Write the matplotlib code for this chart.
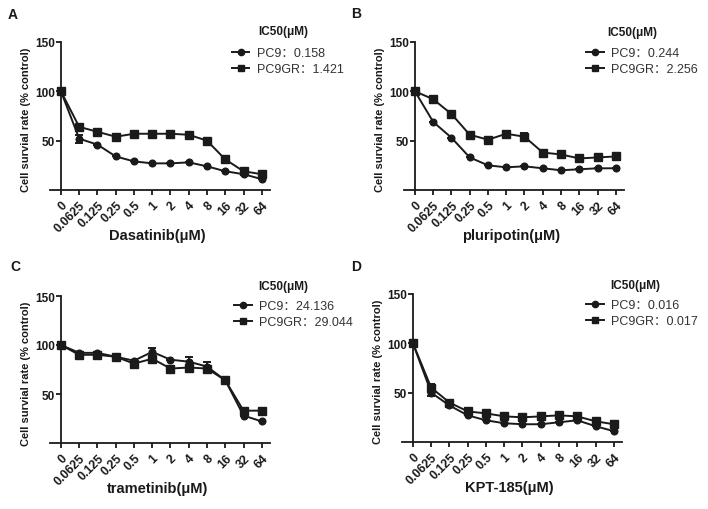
"""
Survival curves PC9 / PC9GR - four drugs
"""
import matplotlib
matplotlib.use('Agg')
import matplotlib.pyplot as plt
from matplotlib.lines import Line2D
import numpy as np

plt.rcParams['font.family'] = ['Liberation Sans', 'Noto Sans CJK SC', 'DejaVu Sans']

# Concentrations (x categories)
doses = ['0', '0.0625', '0.125', '0.25', '0.5', '1', '2', '4', '8', '16', '32', '64']

# Panel A - Dasatinib
dasa_pc9 = [100, 52, 46, 34, 29, 27, 27, 28, 24, 19, 16, 11]
dasa_pc9_err = [0, 4, 0, 0, 0, 0, 0, 0, 0, 0, 0, 0]
dasa_gr = [100, 64, 59, 54, 57, 57, 57, 56, 50, 31, 19, 16]
dasa_gr_err = [0, 0, 0, 0, 3, 0, 0, 0, 0, 0, 0, 0]

# Panel B - pluripotin
plur_pc9 = [100, 69, 53, 33, 25, 23, 24, 22, 20, 21, 22, 22]
plur_pc9_err = [0, 0, 0, 0, 0, 0, 0, 0, 0, 0, 0, 0]
plur_gr = [100, 92, 77, 56, 51, 57, 54, 38, 36, 32, 33, 34]
plur_gr_err = [0, 0, 0, 0, 0, 3, 4, 0, 0, 0, 0, 0]

# Panel C - trametinib
tram_pc9 = [100, 92, 92, 88, 84, 93, 85, 83, 78, 64, 28, 22]
tram_pc9_err = [0, 0, 0, 0, 0, 4, 0, 5, 5, 0, 0, 0]
tram_gr = [100, 90, 90, 88, 81, 86, 76, 77, 76, 64, 33, 33]
tram_gr_err = [0, 3, 0, 0, 3, 3, 0, 3, 0, 0, 0, 0]

# Panel D - KPT-185
kpt_pc9 = [100, 50, 37, 27, 22, 19, 18, 18, 20, 22, 16, 11]
kpt_pc9_err = [0, 3, 0, 0, 0, 0, 0, 0, 0, 0, 0, 0]
kpt_gr = [100, 55, 40, 31, 29, 26, 25, 26, 27, 26, 21, 18]
kpt_gr_err = [0, 4, 0, 0, 0, 0, 0, 0, 0, 0, 0, 0]

panels = [
    ('A', 'Dasatinib(μM)', dasa_pc9, dasa_pc9_err, dasa_gr, dasa_gr_err, '0.158', '1.421'),
    ('B', 'pluripotin(μM)', plur_pc9, plur_pc9_err, plur_gr, plur_gr_err, '0.244', '2.256'),
    ('C', 'trametinib(μM)', tram_pc9, tram_pc9_err, tram_gr, tram_gr_err, '24.136', '29.044'),
    ('D', 'KPT-185(μM)', kpt_pc9, kpt_pc9_err, kpt_gr, kpt_gr_err, '0.016', '0.017'),
]

# mise en page en pixels : (gauche axes, y du 0, y du 150)
W, H = 708, 510
AX_W = 220
boxes = [(50, 191, 43), (404, 191, 43), (50, 444, 297), (402, 443, 295)]
letters = [(8, 15), (351, 14), (10, 267), (351, 267)]
# légende : (gauche du trait, haut de la 1re entrée, gauche du titre, centre y du titre)
legends = [(232, 48, 258, 32), (586, 48, 607, 33), (234, 301, 258, 287), (586, 300, 610, 286)]

col = '#1a1a1a'
fig = plt.figure(figsize=(7.08, 5.10), dpi=100)

x = np.arange(len(doses))
for (letter, xlabel, pc9, pc9_err, gr, gr_err, ic_pc9, ic_gr), (lx, y0, y150), (tx, ty), (hx, hy, ttx, tty) in zip(panels, boxes, letters, legends):
    ax_h = y0 - y150
    ax = fig.add_axes([lx / W, 1 - y0 / H, AX_W / W, ax_h / H])
    ax.errorbar(x, pc9, yerr=pc9_err, color=col, marker='o', markersize=4.8, lw=1.4,
                capsize=3, elinewidth=1.4, capthick=1.4, clip_on=False)
    ax.errorbar(x, gr, yerr=gr_err, color=col, marker='s', markersize=5.2, lw=1.4,
                capsize=3, elinewidth=1.4, capthick=1.4, clip_on=False)
    ax.set_xlim(-0.6, 11.45)
    ax.set_ylim(0, 150)
    ax.spines['left'].set_position(('data', 0))
    ax.spines['top'].set_visible(False)
    ax.spines['right'].set_visible(False)
    for s in ('left', 'bottom'):
        ax.spines[s].set_linewidth(1.3)
        ax.spines[s].set_color(col)
    ax.set_yticks([50, 100, 150])
    ax.set_yticklabels(['50', '100', '150'], fontsize=8.5, fontweight='bold', color=col)
    ax.set_xticks(x)
    ax.set_xticklabels(doses, rotation=45, ha='right', va='top', rotation_mode='anchor',
                       fontsize=8.8, fontweight='bold', color=col)
    ax.tick_params(axis='both', length=3.3, width=1.3, color=col)
    ax.tick_params(axis='y', pad=0.8)
    ax.tick_params(axis='x', pad=3)

    # titres des axes
    ax.set_xlabel(xlabel, fontsize=10.5, fontweight='bold', color=col)
    ax.xaxis.set_label_coords(0.487, -38 / ax_h)
    ax.set_ylabel('Cell survial rate (% control)', fontsize=8, fontweight='bold', color=col)
    ax.yaxis.set_label_coords(-19 / AX_W, 0.48)

    # légende
    h1 = Line2D([], [], color=col, marker='o', markersize=4.5, lw=1.4)
    h2 = Line2D([], [], color=col, marker='s', markersize=5, lw=1.4)
    leg = fig.legend([h1, h2], ['PC9：' + ic_pc9, 'PC9GR：' + ic_gr], loc='upper left',
                     bbox_to_anchor=(hx / W, 1 - hy / H), frameon=False, fontsize=9,
                     handlelength=1.4, handletextpad=0.6, labelspacing=0.35,
                     borderpad=0, borderaxespad=0)
    for t in leg.get_texts():
        t.set_color('#333333')
    fig.text(ttx / W, 1 - tty / H, 'IC50(μM)', fontsize=8.5, fontweight='bold', color=col, va='center')
    fig.text(tx / W, 1 - ty / H, letter, fontsize=10, fontweight='bold', color=col, va='center')

fig.savefig('out.png', dpi=100)
plt.close(fig)
